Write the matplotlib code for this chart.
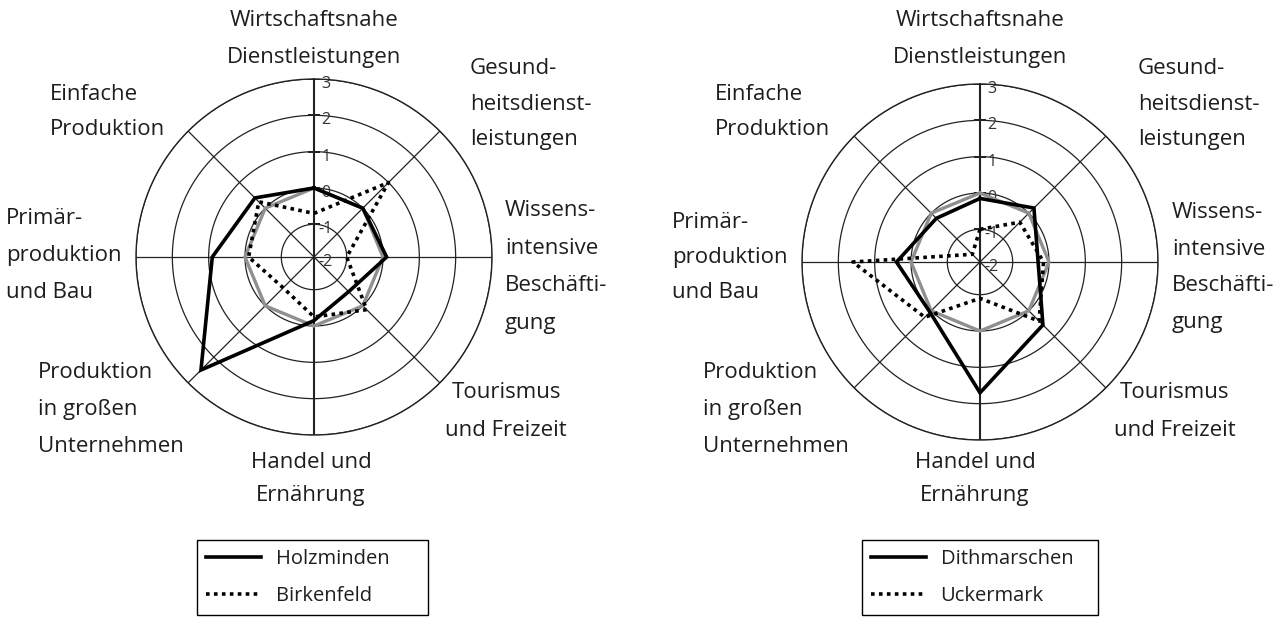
import numpy as np
import matplotlib
matplotlib.use("Agg")
import matplotlib.pyplot as plt

# ---------------- data ----------------
categories = ["Wirtschaftsnahe Dienstleistungen", "Gesundheitsdienstleistungen",
              "Wissensintensive Beschäftigung", "Tourismus und Freizeit",
              "Handel und Ernährung", "Produktion in großen Unternehmen",
              "Primärproduktion und Bau", "Einfache Produktion"]
holzminden = [0.0, 0.0, 0.1, -0.55, -0.15, 2.5, 0.9, 0.4]
birkenfeld = [-0.7, 1.0, -1.0, 0.15, -0.25, -0.7, -0.1, 0.25]
dithmarschen = [-0.15, 0.2, -0.3, 0.55, 1.7, 0.05, 0.4, -0.2]
uckermark = [-1.0, -0.35, -0.15, 0.4, -0.9, 0.25, 1.6, -1.6]
reference = [0, 0, 0, 0, 0, 0, 0, 0]
ring_values = [-1, 0, 1, 2, 3]
tick_labels = ["3", "2", "1", "0", "-1", "-2"]
tick_values = [3, 2, 1, 0, -1, -2]

W, H = 1286, 617
fig = plt.figure(figsize=(W / 100, H / 100), dpi=100)
plt.rcParams['font.family'] = ['Open Sans', 'DejaVu Sans']
TXT = '#1e1e1e'
RMIN, RMAX = -1.9, 3
FS = 16

def fx(x):
    return x / W

def fy(y):
    return 1 - y / H

def make_ax(cx, cy, rad):
    ax = fig.add_axes([fx(cx - rad), fy(cy + rad), 2 * rad / W, 2 * rad / H], projection='polar')
    ax.set_theta_offset(np.pi / 2)
    ax.set_theta_direction(-1)
    ax.set_ylim(RMIN, RMAX)
    ax.grid(False)
    ax.set_xticks([])
    ax.set_yticks([])
    ax.spines['polar'].set_linewidth(1.0)
    ax.spines['polar'].set_color('#222222')
    ax.patch.set_alpha(0)
    n = len(categories)
    angles = np.arange(n) * 2 * np.pi / n
    tt = np.linspace(0, 2 * np.pi, 400)
    for rv in ring_values:
        ax.plot(tt, np.full_like(tt, rv), color='#222222', lw=0.9, zorder=1)
    for i, a in enumerate(angles):
        ax.plot([a, a], [RMIN, RMAX], color='#222222', lw=1.5 if i % 4 == 0 else 0.9, zorder=1)
    ax.plot(np.zeros(len(ring_values)), ring_values, ls='none', marker='_',
            markersize=9, markeredgewidth=1.2, color='#222222', zorder=1)
    for lab, v in zip(tick_labels, tick_values):
        ax.annotate(lab, (0, max(v, RMIN)), xytext=(8.5, -3.5), textcoords='offset points',
                    ha='center', va='center', fontsize=11.5, color='#333333', zorder=2)
    return ax, angles

def close(vals, angles):
    return np.append(angles, angles[0]), np.append(vals, vals[0])

def draw(ax, angles, solid, dotted, names, lx, ly, lw, lh):
    a, r = close(reference, angles)
    ax.plot(a, r, color='#8f8f8f', lw=2.4, zorder=3, solid_joinstyle='miter')
    a, r = close(solid, angles)
    l1, = ax.plot(a, r, color='black', lw=2.6, zorder=4, solid_joinstyle='miter', label=names[0])
    a, r = close(dotted, angles)
    l2, = ax.plot(a, r, color='black', lw=2.6, ls=(0, (1.0, 1.2)), zorder=4,
                  dash_capstyle='butt', label=names[1])
    leg = ax.legend(handles=[l1, l2], loc='upper left',
                    bbox_to_anchor=(fx(lx), fy(ly + lh), lw / W, lh / H), mode='expand',
                    bbox_transform=fig.transFigure, borderaxespad=0, frameon=True,
                    fancybox=False, edgecolor='black', framealpha=1, fontsize=14.5,
                    handlelength=2.75, handletextpad=0.7, labelspacing=0.85,
                    borderpad=0.45)
    leg.get_frame().set_linewidth(1.0)
    for t in leg.get_texts():
        t.set_color(TXT)

def label(x, y, lines, ha='left', dy=37):
    for i, s in enumerate(lines):
        fig.text(fx(x), fy(y + i * dy), s, ha=ha, va='center', fontsize=FS, color=TXT)

ax1, ang = make_ax(314, 257, 178)
draw(ax1, ang, holzminden, birkenfeld, ["Holzminden", "Birkenfeld"], 197, 540, 231, 75)
ax2, ang = make_ax(980, 262, 178)
draw(ax2, ang, dithmarschen, uckermark, ["Dithmarschen", "Uckermark"], 862, 540, 236, 75)

# left labels
label(314, 20, ["Wirtschaftsnahe", "Dienstleistungen"], ha='center')
label(470, 68, ["Gesund-", "heitsdienst-", "leistungen"], dy=36)
label(505, 211, ["Wissens-", "intensive", "Beschäfti-", "gung"], dy=37.5)
label(506, 392, ["Tourismus", "und Freizeit"], ha='center', dy=38)
label(311, 462, ["Handel und", "Ernährung"], ha='center', dy=33)
label(38, 372, ["Produktion", "in großen", "Unternehmen"], dy=37)
label(6, 218, ["Primär-", "produktion", "und Bau"], dy=37)
label(50, 95, ["Einfache", "Produktion"], dy=35)
# right labels
label(980, 20, ["Wirtschaftsnahe", "Dienstleistungen"], ha='center')
label(1138, 68, ["Gesund-", "heitsdienst-", "leistungen"], dy=36)
label(1172, 213, ["Wissens-", "intensive", "Beschäfti-", "gung"], dy=36.5)
label(1175, 392, ["Tourismus", "und Freizeit"], ha='center', dy=38)
label(975, 462, ["Handel und", "Ernährung"], ha='center', dy=33)
label(703, 372, ["Produktion", "in großen", "Unternehmen"], dy=37)
label(672, 222, ["Primär-", "produktion", "und Bau"], dy=35)
label(715, 95, ["Einfache", "Produktion"], dy=35)

fig.savefig("out.png", dpi=100)
